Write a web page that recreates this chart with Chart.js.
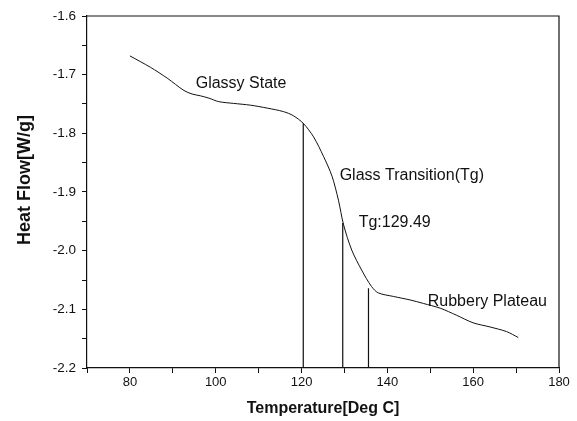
<!DOCTYPE html>
<html>
<head>
<meta charset="utf-8">
<script src="https://cdn.jsdelivr.net/npm/chart.js@4"></script>
<style>
  html, body { margin: 0; padding: 0; background: #fff; }
  #wrap { width: 577px; height: 421px; position: relative; }
</style>
</head>
<body>
<div id="wrap"><canvas id="dsc"></canvas></div>
<script>
  // DSC curve
  const temperature = [80, 84.8, 88.7, 92.6, 94.5, 96.4, 98.4, 100.7, 104.2, 108.1, 112, 115.8, 118.1, 120.4,
    122.8, 125.1, 127.1, 128.6, 129.8, 131.7, 134.0, 136.3, 137.9, 141.4, 145.3, 148.4, 152.3, 156.1,
    160, 163.9, 167.8, 170.5];
  const heatFlow = [-1.668, -1.6875, -1.706, -1.727, -1.733, -1.736, -1.740, -1.746, -1.749, -1.752, -1.757, -1.763, -1.770, -1.783,
    -1.806, -1.839, -1.873, -1.914, -1.956, -1.999, -2.033, -2.061, -2.072, -2.078, -2.084, -2.090, -2.098, -2.110,
    -2.123, -2.130, -2.138, -2.148];

  // vertical marker lines (onset, Tg, end)
  const markerTemps = [120.4, 129.6, 135.6];
  const markerTops = [-1.783, -1.953, -2.064];

  const labelTexts = ['Glassy State', 'Glass Transition(Tg)', 'Tg:129.49', 'Rubbery Plateau'];
  const labelTemps = [105.9, 145.7, 141.7, 163.3];
  const labelFlows = [-1.715, -1.872, -1.952, -2.087];

  const xTicks = [80, 100, 120, 140, 160, 180];
  const yTicks = [-1.6, -1.7, -1.8, -1.9, -2.0, -2.1, -2.2];

  const FONT = 'Arial, "Liberation Sans", sans-serif';
  const INK = '#111';

  const curve = temperature.map((t, i) => ({ x: t, y: heatFlow[i] }));
  const markerSets = markerTemps.map((t, i) => ({
    data: [{ x: t, y: markerTops[i] }, { x: t, y: -2.2 }],
    borderColor: INK,
    borderWidth: 1.2,
    pointRadius: 0,
    showLine: true,
    tension: 0,
  }));

  function isLabelled(list, v) {
    return list.some((t) => Math.abs(t - v) < 1e-6);
  }

  const frameAndLabels = {
    id: 'frameAndLabels',
    afterDraw(chart) {
      const { ctx, chartArea, scales } = chart;
      ctx.save();
      ctx.strokeStyle = INK;
      ctx.lineWidth = 1.2;
      ctx.beginPath();
      ctx.moveTo(chartArea.left, chartArea.top);
      ctx.lineTo(chartArea.right, chartArea.top);
      ctx.lineTo(chartArea.right, chartArea.bottom);
      ctx.stroke();

      ctx.fillStyle = INK;
      ctx.font = '16px ' + FONT;
      ctx.textAlign = 'center';
      ctx.textBaseline = 'middle';
      labelTexts.forEach((txt, i) => {
        ctx.fillText(txt, scales.x.getPixelForValue(labelTemps[i]), scales.y.getPixelForValue(labelFlows[i]));
      });

      // y title sits a bit above the axis middle in the original
      ctx.translate(25, 180);
      ctx.rotate(-Math.PI / 2);
      ctx.font = 'bold 18px ' + FONT;
      ctx.fillText('Heat Flow[W/g]', 0, 0);
      ctx.restore();
    },
  };

  new Chart(document.getElementById('dsc'), {
    type: 'scatter',
    data: {
      datasets: [{
        data: curve,
        borderColor: INK,
        borderWidth: 1,
        pointRadius: 0,
        showLine: true,
        tension: 0.3,
      }, ...markerSets],
    },
    options: {
      responsive: true,
      maintainAspectRatio: false,
      animation: false,
      layout: { padding: { top: 16, right: 18, left: 0, bottom: 0 } },
      plugins: { legend: { display: false }, tooltip: { enabled: false } },
      scales: {
        x: {
          type: 'linear',
          min: 70,
          max: 180,
          afterFit(scale) { scale.height = 53; },
          border: { display: true, color: INK, width: 1.2 },
          grid: { display: true, drawOnChartArea: false, drawTicks: true, tickLength: 5, color: INK },
          ticks: {
            stepSize: 10,
            color: INK,
            padding: 2,
            maxRotation: 0,
            autoSkip: false,
            font: { family: FONT, size: 13 },
            callback: (v) => (isLabelled(xTicks, v) ? String(v) : ''),
          },
          title: {
            display: true,
            text: 'Temperature[Deg C]',
            color: INK,
            padding: { top: 0, bottom: 3 },
            font: { family: FONT, size: 16, weight: 'bold' },
          },
        },
        y: {
          type: 'linear',
          min: -2.2,
          max: -1.6,
          afterFit(scale) { scale.width = 87; },
          border: { display: true, color: INK, width: 1.2 },
          grid: { display: true, drawOnChartArea: false, drawTicks: true, tickLength: 5, color: INK },
          ticks: {
            stepSize: 0.05,
            color: INK,
            padding: 6,
            autoSkip: false,
            font: { family: FONT, size: 13.5 },
            callback: (v) => (isLabelled(yTicks, v) ? v.toFixed(1) : ''),
          },
          title: { display: false },
        },
      },
    },
    plugins: [frameAndLabels],
  });
</script>
</body>
</html>
